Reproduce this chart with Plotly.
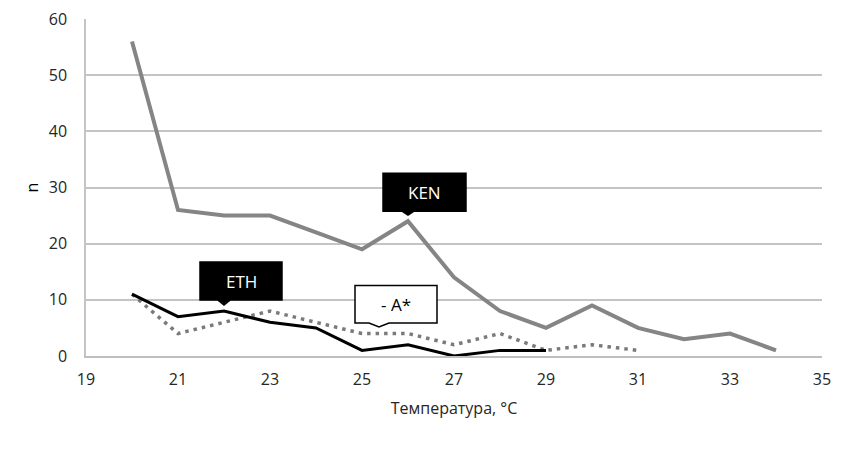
import plotly.graph_objects as go

# Data
temp_ken = [20, 21, 22, 23, 24, 25, 26, 27, 28, 29, 30, 31, 32, 33, 34]
n_ken = [56, 26, 25, 25, 22, 19, 24, 14, 8, 5, 9, 5, 3, 4, 1]

temp_eth = [20, 21, 22, 23, 24, 25, 26, 27, 28, 29]
n_eth = [11, 7, 8, 6, 5, 1, 2, 0, 1, 1]

temp_a = [20, 21, 22, 23, 24, 25, 26, 27, 28, 29, 30, 31]
n_a = [11, 4, 6, 8, 6, 4, 4, 2, 4, 1, 2, 1]

x_ticks = [19, 21, 23, 25, 27, 29, 31, 33, 35]
y_ticks = [0, 10, 20, 30, 40, 50, 60]

FONT = "Open Sans"
TXT = "#262626"

fig = go.Figure()
fig.add_trace(go.Scatter(x=temp_ken, y=n_ken, mode="lines", name="KEN",
                         line=dict(color="#858585", width=4)))
fig.add_trace(go.Scatter(x=temp_a, y=n_a, mode="lines", name="- A*",
                         line=dict(color="#7a7a7a", width=3.5, dash="3.5px,5px")))
fig.add_trace(go.Scatter(x=temp_eth, y=n_eth, mode="lines", name="ETH",
                         line=dict(color="#000000", width=3)))

# Callouts (box + pointer) anchored at data points, drawn in pixel offsets
def callout(xa, ya, left, right, bottom, top, px, tip, fill, border, text, tcolor, notch=6):
    path = (f"M{left},{bottom} L{px - notch},{bottom} L{px},{tip} L{px + notch},{bottom} "
            f"L{right},{bottom} L{right},{top} L{left},{top} Z")
    fig.add_shape(type="path", xref="x", yref="y", xsizemode="pixel", ysizemode="pixel",
                  xanchor=xa, yanchor=ya, path=path, fillcolor=fill,
                  line=dict(color=border, width=1.5), layer="above")
    fig.add_annotation(x=xa, y=ya, xref="x", yref="y", text=text, showarrow=False,
                       xshift=(left + right) / 2, yshift=(bottom + top) / 2,
                       font=dict(family=FONT, size=17, color=tcolor))

callout(temp_ken[6], n_ken[6], -25, 58, 10, 48, 0, 6, "#000000", "#000000", "KEN", "#ffffff")
callout(temp_eth[2], n_eth[2], -24, 58, 11, 49, 0, 6, "#000000", "#000000", "ETH", "#ffffff")
callout(temp_a[5], n_a[5], -7, 75, 10.5, 48, 17, 6.5, "#ffffff", "#000000", "- A*", "#000000", notch=10)

fig.update_layout(
    width=851, height=463,
    margin=dict(l=86, r=29, t=19, b=107, autoexpand=False),
    paper_bgcolor="#ffffff", plot_bgcolor="#ffffff",
    showlegend=False,
    font=dict(family=FONT, size=16, color=TXT),
)
fig.update_xaxes(range=[19, 35], tickvals=x_ticks, ticktext=[str(v) for v in x_ticks],
                 showgrid=False, zeroline=False, showline=True, linecolor="#bfbfbf", linewidth=2,
                 ticks="", ticklabelstandoff=8, tickfont=dict(size=16, color=TXT),
                 title=dict(text="Температура, °C", font=dict(size=16, color=TXT), standoff=14))
fig.update_yaxes(range=[0, 60], tickvals=y_ticks, showgrid=True, gridcolor="#c4c4c4", gridwidth=1.5,
                 zeroline=False, showline=True, linecolor="#c4c4c4", linewidth=1.5,
                 ticks="", ticklabelstandoff=14, tickfont=dict(size=16, color=TXT),
                 title=dict(text="n", font=dict(size=16, color="#000000"), standoff=6))

fig.write_html("out.html", config={"displayModeBar": False},
               post_script="document.body.style.margin='0';")
